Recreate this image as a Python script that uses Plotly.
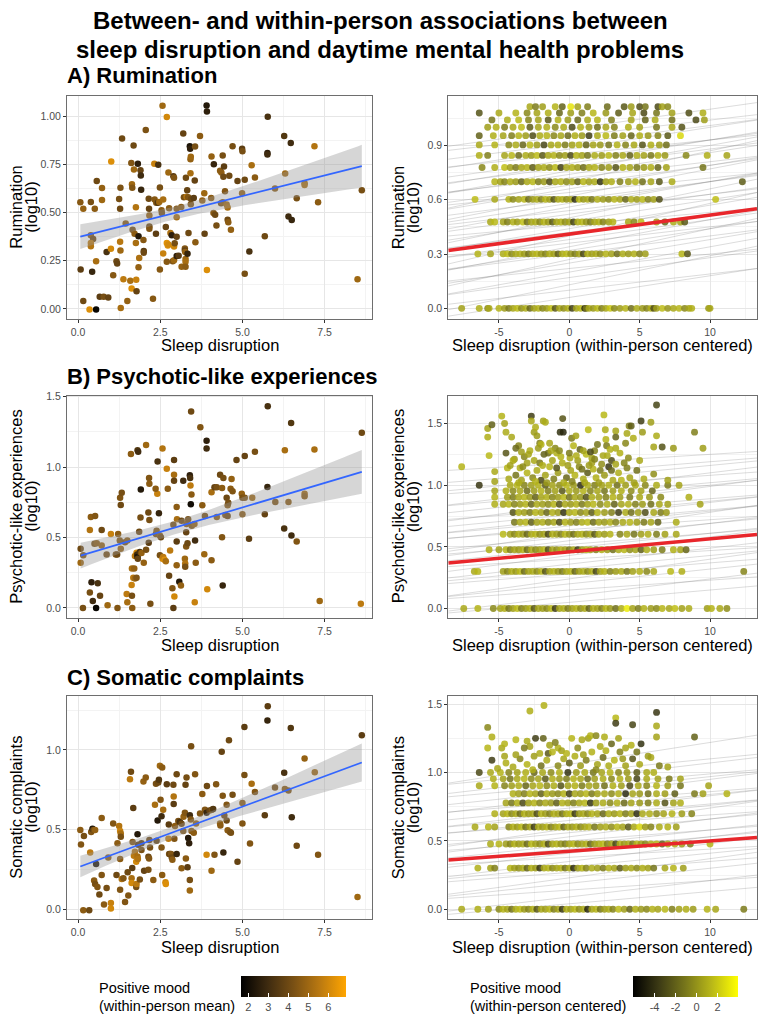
import numpy as np
import plotly.graph_objects as go

W, H = 760, 1018

# ---------------- titles / labels ----------------
MAIN_TITLE = ["Between- and within-person associations between",
              "sleep disruption and daytime mental health problems"]
PANEL_TITLES = ["A) Rumination", "B) Psychotic-like experiences", "C) Somatic complaints"]
Y_TITLES = [["Rumination", "(log10)"], ["Psychotic-like experiences", "(log10)"],
            ["Somatic complaints", "(log10)"]]
X_TITLE_LEFT = "Sleep disruption"
X_TITLE_RIGHT = "Sleep disruption (within-person centered)"
LEG_LEFT = ["Positive mood", "(within-person mean)"]
LEG_RIGHT = ["Positive mood", "(within-person centered)"]

# ---------------- tick labels ----------------
LX_TICKS = [0, 2.5, 5, 7.5]; LX_TEXT = ["0.0", "2.5", "5.0", "7.5"]; LX_MINOR = [1.25, 3.75, 6.25, 8.75]
RX_TICKS = [-5, 0, 5, 10]; RX_TEXT = ["-5", "0", "5", "10"]; RX_MINOR = [-7.5, -2.5, 2.5, 7.5, 12.5]
LY_A_TICKS = [0, 0.25, 0.5, 0.75, 1.0]; LY_A_TEXT = ["0.00", "0.25", "0.50", "0.75", "1.00"]; LY_A_MINOR = [0.125, 0.375, 0.625, 0.875]
LY_B_TICKS = [0, 0.5, 1.0, 1.5]; LY_B_TEXT = ["0.0", "0.5", "1.0", "1.5"]; LY_B_MINOR = [0.25, 0.75, 1.25]
LY_C_TICKS = [0, 0.5, 1.0]; LY_C_TEXT = ["0.0", "0.5", "1.0"]; LY_C_MINOR = [0.25, 0.75, 1.25]
RY_A_TICKS = [0, 0.3, 0.6, 0.9]; RY_A_TEXT = ["0.0", "0.3", "0.6", "0.9"]; RY_A_MINOR = [0.15, 0.45, 0.75, 1.05]
RY_B_TICKS = [0, 0.5, 1.0, 1.5]; RY_B_TEXT = ["0.0", "0.5", "1.0", "1.5"]; RY_B_MINOR = [0.25, 0.75, 1.25]
RY_C_TICKS = [0, 0.5, 1.0, 1.5]; RY_C_TEXT = ["0.0", "0.5", "1.0", "1.5"]; RY_C_MINOR = [0.25, 0.75, 1.25]
CB_LEFT_TICKS = [2, 3, 4, 5, 6]; CB_LEFT_TEXT = ["2", "3", "4", "5", "6"]
CB_RIGHT_TICKS = [-4, -2, 0, 2]; CB_RIGHT_TEXT = ["-4", "-2", "0", "2"]

# ---------------- left panels: between-person data ----------------
LA_x = [0.07,0.16,0.39,0.51,0.57,0.73,0.73,0.08,0.16,0.35,
        0.55,0.43,0.55,0.39,0.46,0.39,0.39,0.66,0.78,0.92,
        0.87,1.01,1.0,1.07,1.17,1.19,1.25,1.28,1.29,1.34,
        1.28,1.29,1.30,1.38,1.45,1.50,1.59,1.63,1.62,1.64,
        1.65,1.66,1.69,1.70,1.72,1.76,1.77,1.78,1.76,1.82,
        1.84,1.84,1.86,1.90,1.91,1.92,1.99,2.0,2.0,2.06,
        2.15,2.16,2.17,2.17,2.17,2.28,2.32,2.33,2.37,2.38,
        2.43,2.44,2.47,2.49,2.49,2.54,2.55,2.57,2.59,2.59,
        2.67,2.70,2.70,2.70,2.73,2.75,2.75,2.77,2.81,2.85,
        2.88,2.90,2.92,2.92,2.94,2.92,3.0,3.0,3.0,3.0,
        3.06,3.14,3.15,3.2,3.22,3.25,3.25,3.26,3.27,3.27,
        3.27,3.28,3.30,3.32,3.35,3.36,3.33,3.40,3.41,3.42,
        3.43,3.42,3.43,3.44,3.52,3.56,3.57,3.55,3.71,3.78,
        3.84,3.85,3.91,3.92,3.92,4.05,4.06,4.13,4.12,4.17,
        4.21,4.40,4.36,4.32,4.35,4.42,4.40,4.44,4.47,4.52,
        4.55,4.55,4.57,4.60,4.65,4.70,4.85,4.99,5.0,4.99,
        5.07,5.07,5.21,5.28,5.38,5.68,5.77,5.76,5.76,5.99,
        6.27,6.30,6.40,6.47,6.50,6.65,6.89,6.89,7.19,7.30,
        8.50,8.63]
LA_y = [0.553,0.519,0.555,0.519,0.663,0.627,0.565,0.205,0.041,-0.003,
        -0.003,0.193,0.248,0.382,0.363,0.342,0.325,0.063,0.063,0.060,
        0.295,0.765,0.312,0.175,0.248,0.236,0.57,0.519,0.628,0.884,
        0.348,0.303,0.005,0.154,0.443,0.041,0.146,0.106,0.757,0.646,
        0.628,0.411,0.848,0.723,0.39,0.342,0.151,0.092,0.527,0.753,
        0.377,0.216,0.264,0.719,0.692,0.618,0.358,0.301,0.291,0.928,
        0.572,0.519,0.485,0.428,0.416,0.053,0.753,0.568,0.39,0.551,
        0.55,0.748,0.555,0.205,0.63,0.512,0.498,1.053,0.568,0.288,
        0.425,0.995,0.245,0.342,0.329,0.334,0.707,0.522,0.394,0.382,
        0.248,0.688,0.68,0.324,0.341,0.253,0.519,0.476,0.375,0.274,
        0.276,0.529,0.219,0.909,0.579,0.313,0.303,0.295,0.259,0.245,
        0.219,0.680,0.582,0.615,0.579,0.394,0.286,0.844,0.830,0.776,
        0.789,0.704,0.543,0.570,0.575,0.842,0.346,0.666,0.897,0.562,
        0.6,0.39,1.055,1.024,0.202,0.575,0.791,0.75,0.497,0.488,
        0.433,0.795,0.707,0.716,0.548,0.685,0.553,0.738,0.610,0.541,
        0.526,0.462,0.450,0.690,0.411,0.844,0.664,0.830,0.818,0.6,
        0.670,0.183,0.298,0.745,0.682,0.377,0.997,0.808,0.801,0.625,
        0.897,0.702,0.479,0.861,0.461,0.574,0.652,0.642,0.844,0.553,
        0.154,0.616]
LA_c = [4.5,4.8,4.2,4.6,4.0,4.8,5.0,3.6,4.0,6.2,
        1.8,2.8,5.2,4.6,4.0,5.6,5.4,3.6,4.2,3.8,
        3.2,6.2,6.0,4.5,4.0,3.8,4.2,4.0,4.3,4.0,
        5.5,5.0,5.2,5.6,4.5,4.8,5.2,6.2,4.4,5.0,
        4.4,4.2,4.0,5.0,4.6,5.2,5.8,3.8,5.4,2.6,
        2.4,4.8,5.3,3.8,3.0,2.8,4.5,3.6,4.0,4.3,
        4.0,3.8,4.8,4.0,4.4,4.5,5.8,4.5,3.6,4.4,
        3.4,3.2,5.0,4.5,4.2,4.6,4.2,5.0,5.2,5.8,
        3.8,6.0,4.5,6.3,6.2,6.0,5.0,4.6,5.3,2.6,
        4.4,3.6,4.4,6.0,4.2,5.0,4.5,5.2,3.8,2.6,
        3.5,4.6,4.8,3.8,4.2,4.4,3.8,4.8,5.0,5.2,
        4.6,4.0,5.4,3.8,4.4,4.0,2.8,2.2,2.6,4.8,
        5.0,5.2,4.4,4.0,3.6,4.2,4.6,3.8,4.6,4.8,
        5.0,3.8,2.4,2.6,6.2,4.6,4.8,2.8,4.5,4.0,
        4.2,4.2,4.8,4.6,4.2,4.0,4.5,3.6,4.4,5.0,
        5.2,4.0,4.6,4.0,4.8,4.2,3.8,3.6,4.2,4.8,
        4.0,4.2,3.2,5.2,4.6,4.0,3.2,2.6,3.0,4.6,
        3.4,5.0,3.0,3.0,2.8,4.2,4.8,5.2,5.4,4.6,
        5.0,4.2]

LB_x = [0.08,0.08,0.16,0.36,0.39,0.52,0.50,0.57,0.72,0.72,
        0.41,0.60,0.36,0.67,0.87,1.0,1.15,1.19,1.22,1.27,
        1.30,1.28,1.33,1.30,1.43,1.50,1.61,1.64,1.71,1.68,
        1.73,1.78,1.63,1.48,1.64,1.73,1.78,1.80,1.81,1.82,
        1.88,1.93,1.81,1.83,1.86,1.90,1.91,2.07,2.0,2.07,
        2.14,2.16,2.17,2.17,2.15,2.41,2.36,2.37,2.39,2.42,
        2.46,2.49,2.52,2.49,2.57,2.57,2.59,2.63,2.70,2.67,
        2.73,2.77,2.80,2.87,2.90,2.92,2.92,2.92,2.93,3.0,
        3.01,3.0,3.0,3.08,3.13,3.15,3.2,3.25,3.26,3.26,
        3.29,3.29,3.30,3.33,3.35,3.40,3.41,3.43,3.42,3.44,
        3.45,3.46,3.54,3.56,3.58,3.72,3.78,3.84,3.86,3.91,
        3.91,3.93,4.06,4.06,4.15,4.22,4.22,4.32,4.38,4.38,
        4.40,4.42,4.48,4.52,4.55,4.55,4.57,4.64,4.67,4.70,
        4.82,4.98,5.0,5.0,5.07,5.07,5.20,5.30,5.38,5.68,
        5.77,5.76,6.0,6.27,6.29,6.40,6.48,6.49,6.65,6.89,
        6.89,7.19,8.63,0.15,0.45,0.55,0.9,1.2,1.5,1.65,
        2.2,2.9,3.55,7.35,8.6]
LB_y = [0.421,0.322,0.374,0.554,0.647,0.654,0.456,0.46,0.554,0.444,
        0.182,0.175,0.11,0.086,0.379,0.526,0.379,0.379,0.526,0.479,
        0.421,0.783,0.818,0.731,0.467,0.479,1.093,0.280,0.280,0.215,
        0.210,0.215,0.164,0.1,0.086,0.369,0.393,0.379,0.362,0.350,
        0.397,0.39,1.121,1.110,0.542,0.643,0.841,1.157,0.322,0.414,
        0.678,0.923,0.883,0.624,0.463,0.811,0.846,0.526,0.549,1.040,
        0.673,0.514,0.502,0.374,1.133,0.350,0.362,0.343,0.988,0.332,
        0.846,0.229,0.409,0.140,0.591,1.051,0.946,0.904,0.082,0.717,
        0.631,0.472,0.304,0.187,0.159,0.619,0.904,0.350,0.315,0.292,
        0.537,0.437,0.596,0.460,0.631,0.942,0.923,0.736,0.869,1.395,
        0.806,0.584,0.596,0.479,0.322,1.283,0.729,0.381,0.654,1.187,
        1.133,0.133,0.339,0.822,0.857,0.857,0.647,0.946,0.502,0.853,
        0.159,0.923,0.661,0.783,0.729,0.654,0.748,0.846,0.916,0.829,
        1.051,0.811,0.783,0.666,1.079,0.783,0.491,0.783,1.110,0.666,
        1.432,0.86,0.752,0.565,1.121,0.752,1.313,0.514,0.472,0.811,
        0.794,1.126,1.245,0.0,0.05,0.0,0.02,0.0,0.04,0.0,
        0.03,0.0,0.04,0.05,0.03]
LB_c = [4.0,5.0,4.4,5.4,4.6,4.4,4.2,4.6,4.0,4.8,
        2.6,3.2,4.2,3.8,4.2,5.8,4.4,4.0,4.6,4.4,
        4.8,4.4,4.2,4.0,4.2,4.6,4.6,5.2,4.8,5.6,
        5.0,4.4,5.8,5.6,4.2,5.6,6.0,3.0,2.2,3.8,
        3.2,4.8,3.4,3.0,4.0,4.2,2.4,5.0,4.8,4.2,
        4.0,4.4,4.6,4.2,3.6,5.8,4.6,4.2,4.4,3.2,
        2.8,4.6,4.0,4.2,5.4,6.0,5.6,6.2,5.8,5.2,
        4.6,3.8,5.6,4.4,4.2,3.6,5.2,3.8,6.0,4.6,
        5.2,3.6,4.8,2.4,4.8,4.0,3.0,5.0,5.4,4.2,
        3.8,4.4,4.6,4.0,4.2,2.6,3.2,2.0,5.6,4.0,
        4.6,4.4,4.8,3.0,4.6,4.4,4.6,5.0,4.2,2.6,
        3.0,6.0,4.6,5.2,3.8,4.2,4.6,4.0,4.4,4.6,
        2.8,4.2,4.4,4.0,4.6,4.0,4.2,4.6,4.8,4.4,
        3.8,4.8,4.2,4.6,3.8,4.4,3.6,5.0,4.2,3.8,
        3.2,2.8,4.4,3.2,5.2,4.6,3.4,3.0,4.4,5.0,
        4.6,5.2,4.0,4.2,3.0,1.8,5.0,4.4,5.2,4.6,
        4.2,3.6,5.8,5.0,5.6]

LC_x = [0.07,0.09,0.18,0.16,0.34,0.37,0.40,0.44,0.47,0.52,
        0.55,0.49,0.52,0.59,0.65,0.72,0.72,0.79,0.87,0.92,
        1.0,1.0,1.07,1.17,1.20,1.25,1.28,1.30,1.30,1.28,
        1.28,1.33,1.38,1.43,1.51,1.53,1.58,1.61,1.65,1.63,
        1.63,1.66,1.68,1.70,1.73,1.77,1.77,1.78,1.81,1.81,
        1.82,1.83,1.88,1.93,1.93,1.99,2.06,2.01,2.14,2.14,
        2.16,2.17,2.19,2.29,2.34,2.37,2.39,2.42,2.44,2.46,
        2.49,2.51,2.54,2.56,2.54,2.56,2.59,2.66,2.67,2.70,
        2.75,2.77,2.76,2.80,2.83,2.85,2.87,2.9,2.91,2.91,
        2.93,2.95,3.0,3.0,3.05,3.10,3.15,3.15,3.20,3.21,
        3.25,3.27,3.28,3.30,3.33,3.35,3.38,3.40,3.40,3.40,
        3.44,3.43,3.45,3.52,3.56,3.59,3.71,3.78,3.86,3.91,
        3.91,3.92,4.0,4.06,4.07,4.11,4.15,4.2,4.32,4.33,
        4.37,4.40,4.42,4.45,4.52,4.52,4.55,4.59,4.62,4.65,
        4.70,4.85,5.0,5.0,5.06,5.06,5.23,5.28,5.38,5.68,
        5.77,5.76,5.99,6.27,6.29,6.40,6.47,6.50,6.65,6.89,
        7.20,7.30,8.50,8.63]
LC_y = [0.497,0.406,0.46,-0.006,-0.006,0.356,0.484,0.505,0.497,0.497,
        0.284,0.180,0.159,0.139,0.093,0.573,0.215,0.029,0.133,0.325,
        0.039,0.004,0.538,0.215,0.414,0.522,0.491,0.476,0.455,0.315,
        0.122,0.190,0.195,0.046,0.232,0.087,0.816,0.863,0.259,0.195,
        0.164,0.422,0.636,0.335,0.360,0.139,0.298,0.159,0.470,0.331,
        0.315,0.404,0.186,0.371,0.414,0.801,0.826,0.242,0.248,0.329,
        0.319,0.435,0.387,0.184,0.656,0.787,0.429,0.557,0.795,0.812,
        0.901,0.687,0.584,0.89,0.387,0.215,0.625,0.170,0.159,0.785,
        0.443,0.346,0.532,0.346,0.346,0.325,0.311,0.781,0.660,0.708,
        0.443,0.522,0.847,0.346,0.553,0.547,0.536,0.257,0.491,0.580,
        0.605,0.781,0.319,0.826,0.263,0.447,0.414,0.184,0.118,0.590,
        1.023,0.563,0.491,0.480,0.847,0.538,0.600,0.723,0.625,0.605,
        0.342,0.774,0.619,0.242,0.625,0.629,0.342,0.785,0.538,0.526,
        0.988,0.712,0.356,0.588,0.656,0.557,0.495,1.060,0.484,0.480,
        0.718,0.298,0.667,0.538,1.143,0.843,0.412,0.787,0.735,0.590,
        1.273,1.184,0.764,0.857,0.754,0.745,1.137,0.578,0.398,0.946,
        0.859,0.342,0.077,1.091]
LC_c = [4.6,4.4,4.2,4.6,4.0,5.6,4.4,2.4,4.2,4.8,
        2.2,4.6,4.2,4.4,4.0,4.6,4.4,4.6,4.2,4.6,
        5.8,6.0,4.4,4.0,4.6,5.4,5.8,5.2,4.2,4.6,
        4.4,5.4,4.4,4.4,4.0,4.4,5.6,4.0,3.6,5.2,
        6.0,4.4,3.6,5.6,5.4,4.2,6.0,5.6,2.4,5.2,
        5.4,3.6,4.2,4.2,3.6,4.8,4.6,3.8,4.2,4.0,
        4.4,4.0,4.2,4.6,5.2,4.2,3.8,2.4,4.0,3.4,
        5.0,4.4,3.0,4.6,4.4,4.6,5.2,6.0,6.2,3.6,
        5.6,4.2,3.6,3.8,4.4,4.0,4.6,4.0,3.6,5.4,
        4.4,4.6,4.0,2.8,4.2,3.2,4.0,4.6,4.4,4.8,
        4.4,3.8,4.6,4.2,3.6,2.4,2.6,4.2,5.0,3.0,
        4.2,4.4,4.6,4.6,4.4,4.8,4.4,4.6,4.4,2.8,
        6.0,4.0,3.8,5.0,4.2,3.4,4.4,4.4,4.8,4.6,
        3.8,4.4,2.8,4.0,4.4,4.0,4.6,4.0,4.4,4.2,
        4.2,3.8,4.6,4.4,3.6,4.2,4.4,5.2,4.4,3.6,
        3.6,2.8,4.2,3.2,4.6,4.4,3.4,3.0,4.0,4.8,
        5.0,4.4,5.0,3.6]

# between-person linear fit (intercept, slope) as drawn in the reference
BETWEEN_FIT = [(0.372, 0.0427), (0.366, 0.0696), (0.263, 0.0762)]

# ---------------- right panels: within-person data ----------------
RA_levels = [0.0, 0.301, 0.477, 0.602, 0.699, 0.778, 0.845, 0.903, 0.954, 1.0, 1.041, 1.079, 1.114]
RA_x = [
    [-7.65,-6.4,-5.8,-5.7,-5.0,-4.6,-4.3,-4.0,-3.7,-3.4,-3.1,-2.8,-2.5,-2.2,-1.9,-1.6,-1.3,-1.0,-0.7,-0.4,-0.1,0.2,0.5,0.8,1.1,1.2,1.4,1.7,2.0,2.3,2.6,2.9,3.2,3.6,4.0,4.4,4.8,5.2,5.5,5.8,6.0,6.2,6.6,7.0,7.4,7.8,8.2,8.5,8.7,9.9,10.0],
    [-6.5,-5.6,-4.7,-4.4,-4.1,-3.8,-3.5,-3.2,-2.9,-2.6,-2.3,-2.0,-1.7,-1.4,-1.1,-0.8,-0.5,-0.2,0.1,0.4,0.7,1.0,1.3,1.6,1.9,2.2,2.6,3.0,3.4,3.8,4.2,4.6,5.0,5.4,8.0,8.4],
    [-5.6,-5.3,-4.7,-4.4,-4.0,-3.7,-3.3,-3.0,-2.7,-2.4,-2.1,-1.8,-1.5,-1.2,-0.9,-0.6,-0.3,0.0,0.3,0.6,0.9,1.2,1.5,1.8,2.1,2.4,2.8,3.1,4.2,4.6,5.1,6.2,6.8,7.4,7.9,8.2],
    [-6.7,-5.3,-4.3,-4.0,-3.6,-3.2,-2.9,-2.6,-2.3,-2.0,-1.7,-1.4,-1.1,-0.8,-0.5,-0.2,0.1,0.4,0.7,1.0,1.3,1.6,2.0,2.4,2.8,3.2,3.6,4.0,4.4,4.8,5.2,5.6,6.0,6.4,10.4],
    [-5.3,-4.9,-4.6,-4.2,-3.8,-3.4,-3.0,-2.6,-2.2,-1.8,-1.4,-1.0,-0.6,-0.2,0.2,0.6,1.0,1.4,1.8,2.2,2.6,3.0,3.6,4.2,4.7,5.2,5.8,6.4,7.3,12.3],
    [-6.2,-5.3,-4.6,-4.2,-3.8,-3.4,-3.0,-2.6,-2.2,-1.8,-1.4,-1.0,-0.6,-0.2,0.2,0.6,1.0,1.4,1.8,2.3,2.8,3.3,3.8,4.3,4.8,5.3,5.8,6.3,6.9,9.5],
    [-6.4,-5.8,-4.6,-4.1,-3.6,-3.1,-2.7,-2.3,-1.9,-1.5,-1.1,-0.7,-0.3,0.1,0.5,0.9,1.3,1.8,2.3,2.8,3.3,3.8,4.3,4.8,5.3,5.8,6.3,6.8,8.3,9.8,11.2],
    [-6.4,-5.3,-4.3,-3.8,-3.3,-2.8,-2.3,-1.8,-1.3,-0.8,-0.3,0.2,0.7,1.2,1.7,2.2,2.8,3.4,4.0,4.6,5.2,5.8,6.4,6.9],
    [-6.4,-5.4,-4.7,-4.1,-3.6,-3.1,-2.6,-2.1,-1.6,-1.1,-0.6,-0.1,0.4,0.9,1.4,2.0,2.6,3.2,3.8,4.4,5.0,5.6,6.3,7.0,7.9],
    [-5.8,-5.2,-4.6,-4.0,-3.4,-2.8,-2.2,-1.6,-1.0,-0.4,0.2,0.8,1.4,2.0,2.6,3.2,4.2,5.0,6.2,7.3,8.0],
    [-5.5,-4.4,-3.6,-2.9,-2.2,-1.5,-0.8,-0.1,0.6,1.3,2.0,3.0,4.4,5.4,6.1,7.3,9.0,9.6],
    [-6.4,-5.0,-3.8,-3.0,-2.3,-1.5,-0.7,0.1,0.9,1.7,2.6,3.5,4.5,5.3,6.2,7.3,8.5,9.5],
    [-2.8,-2.4,-1.9,-1.0,-0.5,0.1,0.6,1.3,2.7,3.9,4.4,5.0,5.4,6.3,6.6,7.0],
]
RA_c = [
    [0.5,1.0,-0.5,0.8,1.2,0.3,-1.0,0.6,1.5,-0.2,0.9,-1.8,0.4,1.1,-0.6,0.2,1.6,-2.5,0.7,-0.3,1.0,-3.5,0.5,1.3,-4.5,-1.2,0.8,0.1,1.4,-0.8,0.6,1.9,-0.4,0.3,1.2,-1.5,0.9,0.2,-0.7,1.1,-2.8,0.4,1.5,0.0,0.8,1.3,-0.5,0.6,1.0,0.2,0.7],
    [1.2,0.6,0.9,1.5,-0.4,0.7,1.0,0.3,-1.2,0.8,1.3,0.2,-0.6,1.0,0.5,-2.0,0.9,1.4,0.1,-0.9,0.6,-3.0,1.1,0.4,0.8,-0.3,1.2,0.5,-1.5,0.9,0.2,1.0,-0.7,0.4,1.3,-2.5],
    [0.8,1.4,0.5,-0.8,1.0,0.3,1.6,-1.4,0.6,0.9,-0.5,1.2,0.2,-2.2,0.7,1.1,-0.2,0.5,-3.2,0.9,1.3,0.0,-1.0,0.6,1.0,-0.6,0.4,1.2,0.8,-0.4,1.5,0.3,-1.8,0.9,0.6,-2.4],
    [1.5,0.8,1.1,-0.4,0.6,1.3,-1.6,0.2,0.9,-0.8,1.2,0.4,-2.6,0.7,1.0,-0.3,0.5,-4.2,1.4,0.1,0.8,-1.1,1.0,0.3,-0.5,1.2,0.6,-1.9,0.9,0.2,1.4,-0.7,0.5,-2.8,1.6],
    [1.2,0.5,-0.6,1.0,0.3,-1.8,0.8,1.4,-0.9,0.2,-3.0,0.7,1.1,-0.4,0.6,-2.0,1.3,0.4,0.9,-4.0,0.5,1.0,-0.8,0.3,1.2,-1.4,0.7,-2.4,0.9,-2.2],
    [-0.5,1.0,1.6,0.4,-1.0,0.8,1.2,-2.2,0.5,0.9,-0.3,1.4,-3.4,0.6,1.0,0.2,-1.5,0.8,1.1,-0.6,0.4,-2.6,1.2,0.7,-0.9,0.3,1.0,-1.8,0.6,-1.2],
    [1.0,-0.8,0.6,1.3,-1.6,0.9,0.2,1.5,-2.4,0.7,1.1,-0.5,0.4,-3.0,1.2,0.6,-1.2,0.9,0.3,1.4,-0.7,0.8,-2.0,1.0,0.5,-1.0,1.2,0.2,-0.4,1.0,0.6],
    [0.8,1.2,-0.4,0.9,-1.8,1.4,0.3,-3.2,0.7,1.0,-0.9,0.5,1.3,-2.0,0.6,0.2,-1.2,1.1,-0.6,0.8,-2.6,1.0,0.4,-1.4],
    [-2.0,1.0,0.6,-0.8,1.3,0.4,-2.8,0.9,1.2,-0.5,0.7,-1.6,1.0,0.3,-3.5,0.8,1.4,-0.9,0.5,-1.8,1.1,0.2,-0.6,-2.4,2.5],
    [0.4,1.1,-1.0,0.8,1.5,-2.2,0.6,1.0,-0.4,0.9,-3.0,1.2,0.3,-1.4,0.7,-0.6,1.0,0.5,-1.2,0.8,-2.6],
    [-1.2,0.9,1.4,-0.6,0.5,-2.4,1.1,0.3,-1.6,0.8,1.2,-0.8,0.6,-2.0,0.9,-1.4,-3.0,0.4],
    [-2.6,0.8,1.2,-0.5,0.6,1.0,-1.8,0.4,-0.8,1.3,0.2,-2.2,0.7,-3.0,-1.2,0.5,-2.8,1.0],
    [0.8,-1.0,0.4,1.2,-2.0,3.0,0.6,-0.8,-1.6,-2.4,0.3,-2.8,-1.2,-3.0,0.5,-0.4],
]

RB_levels = [0.0, 0.301, 0.477, 0.602, 0.699, 0.778, 0.845, 0.903, 0.954, 1.0]
RB_x = [
    [-7.5,-6.5,-5.4,-4.9,-4.6,-4.3,-4.0,-3.7,-3.4,-3.1,-2.8,-2.5,-2.2,-1.9,-1.6,-1.3,-1.0,-0.7,-0.4,-0.1,0.2,0.5,0.8,1.1,1.4,1.7,2.0,2.3,2.6,2.9,3.3,3.7,4.1,4.5,4.9,5.3,5.8,6.2,6.6,7.1,7.5,8.0,8.5,9.8,10.1,10.7,11.2],
    [-6.75,-6.5,-4.7,-4.4,-4.1,-3.8,-3.5,-3.2,-2.9,-2.6,-2.3,-2.0,-1.7,-1.4,-1.1,-0.8,-0.5,-0.2,0.1,0.4,0.7,1.0,1.3,1.6,1.9,2.2,2.5,2.9,3.3,3.7,4.1,4.5,5.0,5.5,6.0,7.2,8.0,12.4],
    [-5.7,-5.0,-4.5,-4.2,-3.9,-3.6,-3.3,-3.0,-2.7,-2.4,-2.1,-1.8,-1.5,-1.2,-0.9,-0.6,-0.3,0.0,0.3,0.6,0.9,1.2,1.5,1.9,2.3,2.7,3.1,3.5,3.9,4.3,4.7,5.1,5.5,6.0,6.6,7.4,7.9,8.3],
    [-4.7,-4.2,-3.9,-3.6,-3.3,-3.0,-2.7,-2.4,-2.1,-1.8,-1.5,-1.2,-0.9,-0.6,-0.3,0.0,0.3,0.6,0.9,1.2,1.5,1.8,2.1,2.5,2.9,3.6,4.1,4.6,5.1,5.6,6.2,6.8,7.6],
    [-3.9,-3.5,-3.1,-2.7,-2.3,-1.9,-1.5,-1.1,-0.7,-0.3,0.1,0.5,0.9,1.3,1.7,2.1,2.5,2.9,3.3,3.8,4.3,4.8,5.3,5.8,6.3,7.6],
    [-4.0,-3.6,-3.2,-2.8,-2.4,-2.0,-1.6,-1.2,-0.8,-0.4,0.0,0.4,0.8,1.2,1.6,2.0,2.5,3.0,3.5,4.0,4.4,4.9,5.4,6.0,6.5,6.9],
    [-5.3,-4.7,-4.3,-3.9,-3.5,-3.1,-2.7,-2.3,-1.9,-1.5,-1.1,-0.7,-0.3,0.1,0.5,0.9,1.3,1.7,2.2,2.7,3.2,3.7,4.2,4.7,5.2,5.8,6.4,7.0,9.3],
    [-5.3,-4.4,-4.0,-3.6,-3.2,-2.8,-2.4,-2.0,-1.6,-1.2,-0.8,-0.4,0.0,0.4,0.8,1.2,1.6,2.1,2.6,3.1,3.6,4.3,5.0,5.7,6.5,8.5],
    [-5.3,-4.5,-4.0,-3.5,-3.0,-2.5,-2.0,-1.5,-1.0,-0.5,0.0,0.5,1.0,1.5,2.0,2.5,3.1,3.7,4.4,5.1,5.9],
    [-6.4,-4.2,-3.7,-3.2,-2.7,-2.2,-1.7,-1.2,-0.7,-0.2,0.3,0.8,1.3,1.8,2.3,2.8,3.4,4.0,4.7,5.4,6.2,7.0,7.8],
]
RB_c = [
    [0.8,1.2,-0.4,0.6,1.0,-1.2,0.4,1.5,-0.8,0.2,1.1,-2.4,0.7,0.3,-0.5,1.3,-3.6,0.6,0.9,-1.0,0.4,1.2,-0.3,0.8,-2.0,1.0,0.5,-0.7,1.4,0.2,-1.5,0.9,3.2,0.6,-0.9,1.1,0.3,-0.4,1.3,0.7,1.6,0.5,0.9,0.4,1.2,0.8,-0.2],
    [0.8,1.3,0.4,-0.6,1.0,0.2,1.4,-1.5,0.6,0.9,-0.3,1.2,-2.6,0.5,1.1,0.0,-0.9,0.7,1.3,-1.8,0.4,0.9,-0.4,1.0,-3.2,0.6,1.2,-0.7,0.3,0.9,-1.2,0.5,1.1,-0.5,0.8,1.4,1.0,-0.6],
    [1.0,0.5,1.3,-0.8,0.6,0.2,1.1,-1.6,0.8,-0.4,0.4,1.2,-2.8,0.7,-0.2,1.0,0.5,-1.1,0.9,-3.6,0.3,1.2,0.6,-0.6,1.0,0.2,-1.4,0.8,1.3,-0.3,0.5,-2.2,0.9,0.4,-0.9,1.1,0.6,-1.8],
    [1.4,0.6,-0.5,1.0,0.3,-1.8,0.8,1.2,-0.2,0.5,-3.0,1.0,0.4,-0.8,1.3,0.1,-1.4,0.7,1.1,-0.4,0.6,-2.4,0.9,0.3,1.2,-0.6,0.8,-1.2,0.4,1.0,-0.9,0.5,0.7],
    [-1.2,0.8,1.2,-2.2,0.5,1.0,-0.4,0.7,-3.0,1.1,0.3,-0.8,0.9,1.4,-1.6,0.6,0.2,1.0,-0.6,0.8,1.3,0.4,-1.0,0.7,-2.0,0.9],
    [-2.6,0.9,0.4,-0.9,1.2,0.6,-1.8,1.0,0.2,-4.0,0.8,1.3,-0.5,0.5,-2.2,1.1,0.3,-0.7,-3.5,0.9,-1.5,0.4,-2.8,0.7,-1.0,0.2],
    [1.0,0.6,1.3,-0.6,0.3,1.1,-1.8,0.8,0.4,-0.3,1.2,-2.6,0.7,0.2,1.0,-1.0,0.5,1.3,-0.4,0.9,-2.0,0.6,1.1,-0.8,0.3,-1.4,0.8,0.5,0.6],
    [1.2,0.4,-0.9,0.8,1.3,0.2,-2.0,0.6,1.0,-0.5,0.3,1.4,-1.3,0.7,0.1,-2.8,0.9,0.5,-0.7,1.2,0.4,-1.0,0.8,0.2,-0.4,1.0],
    [0.6,1.0,-0.4,0.8,-1.6,0.3,1.2,-0.8,0.5,-2.4,0.9,0.2,1.1,-0.6,0.7,-1.2,0.4,1.0,-0.3,0.6,-1.8],
    [-3.8,0.8,1.2,-0.6,0.4,1.0,-2.2,0.6,-0.3,1.3,0.2,-4.2,0.9,-0.8,0.5,1.1,-1.4,0.3,0.7,-0.5,0.9,-1.0,0.6],
]
RB_cloud = [
    (-7.65,1.15,1.2),(-5.8,1.46,0.6),(-5.5,1.49,-2.0),(-5.8,1.39,1.0),(-5.7,1.24,1.4),(-5.3,1.11,0.8),
    (-5.3,1.03,0.5),(-4.8,1.56,1.2),(-4.6,1.5,0.6),(-4.5,1.43,0.9),(-4.5,1.26,-2.5),(-4.4,1.14,1.3),
    (-4.1,1.39,0.8),(-3.9,1.21,0.3),(-3.6,1.32,-0.5),(-3.5,1.14,1.0),(-3.0,1.18,0.6),(-2.7,1.56,-3.5),
    (-2.7,1.52,0.8),(-2.5,1.43,0.4),(-2.4,1.47,1.0),(-2.3,1.40,0.3),(-2.1,1.34,-0.8),(-2.0,1.33,1.2),
    (-1.85,1.52,0.5),(-1.7,1.51,0.9),(-1.5,1.26,-1.5),(-1.4,1.34,0.7),(-0.9,1.26,1.0),(-0.65,1.43,-4.0),
    (-0.47,1.54,-2.5),(-0.43,1.43,-4.5),(0.05,1.22,0.8),(0.17,1.38,-1.0),(0.47,1.40,0.6),(0.76,1.29,-2.0),
    (1.35,1.45,1.5),(1.6,1.22,0.5),(1.8,1.28,-0.6),(2.46,1.57,1.4),(2.56,1.45,0.9),(2.6,1.37,1.2),
    (2.65,1.32,-1.0),(3.3,1.44,0.7),(3.3,1.39,-2.0),(4.1,1.42,0.8),(4.25,1.48,-0.6),(4.4,1.48,-2.2),
    (4.55,1.38,1.0),(5.1,1.52,-3.5),(5.2,1.43,0.3),(5.8,1.51,0.4),(6.0,1.31,0.6),(6.2,1.65,-3.2),
    (6.2,1.40,0.9),(6.6,1.31,-2.6),(7.4,1.30,0.2),(8.9,1.43,-0.8),(9.5,1.30,0.4),
    (-4.3,1.05,0.8),(-3.8,1.08,-1.2),(-3.4,1.04,0.5),(-3.0,1.10,1.2),(-2.6,1.06,-0.4),(-2.3,1.12,0.9),
    (-2.0,1.04,-3.0),(-1.7,1.08,0.6),(-1.4,1.15,1.3),(-1.1,1.05,-0.8),(-0.8,1.10,0.4),(-0.5,1.18,1.0),
    (-0.2,1.06,-1.8),(0.1,1.12,0.7),(0.4,1.08,1.2),(0.7,1.15,-0.5),(1.0,1.05,0.9),(1.3,1.10,-2.4),
    (1.6,1.18,0.5),(1.9,1.06,1.1),(2.2,1.12,-0.9),(2.5,1.08,0.3),(2.8,1.15,-3.8),(3.1,1.04,0.8),
    (3.5,1.10,1.0),(3.9,1.18,-0.6),(4.3,1.06,0.6),(4.8,1.12,-1.4),(5.3,1.05,0.9),(6.0,1.09,-0.2),
    (7.0,1.04,0.5),(-4.0,1.20,1.0),(-3.2,1.23,-0.6),(-2.5,1.20,0.8),(-1.8,1.25,-2.0),(-1.2,1.20,0.6),
    (-0.6,1.23,1.2),(0.0,1.26,-1.0),(0.6,1.20,0.4),(1.2,1.25,1.4),(1.8,1.21,-0.6),(2.4,1.24,0.7),
    (3.0,1.20,-2.8),(3.6,1.26,1.1),(4.2,1.22,-0.3),(5.0,1.20,0.8),(-3.8,1.30,-1.6),(-2.8,1.28,1.0),
    (-2.2,1.30,0.3),(-1.0,1.30,-0.4),(0.3,1.32,1.3),(1.0,1.28,0.6),(2.0,1.33,-1.2),(3.3,1.30,0.9),
    (4.0,1.34,-0.5),(-4.2,1.16,0.5),(-3.6,1.02,0.9),(-3.3,1.15,-0.3),(-2.9,1.25,0.6),(-2.4,1.03,1.1),
    (-2.1,1.18,-1.0),(-1.6,1.02,0.2),(-1.3,1.28,0.8),(-0.9,1.14,-2.6),(-0.4,1.02,0.9),(-0.1,1.16,0.4),
    (0.2,1.03,-0.6),(0.5,1.24,1.0),(0.9,1.13,-1.4),(1.1,1.02,0.7),(1.5,1.27,-3.0),(1.7,1.13,1.2),
    (2.1,1.02,0.4),(2.3,1.17,-0.2),(2.7,1.24,0.9),(3.0,1.12,-1.8),(3.3,1.17,0.6),(3.7,1.04,1.3),
    (4.1,1.14,-0.8),(4.6,1.02,0.5),(-1.9,1.16,1.0),(-0.7,1.28,-0.4),(1.4,1.16,0.3),(2.9,1.29,1.1),
    (-3.4,1.27,0.4),
]

RC_levels = [0.0, 0.301, 0.477, 0.602, 0.699, 0.778, 0.845, 0.903, 0.954, 1.0]
RC_x = [
    [-7.65,-6.5,-5.75,-5.0,-4.7,-4.4,-4.1,-3.8,-3.5,-3.2,-2.9,-2.6,-2.3,-2.0,-1.7,-1.4,-1.1,-0.8,-0.5,-0.2,0.1,0.4,0.7,1.0,1.3,1.6,1.9,2.2,2.5,2.8,3.1,3.5,3.9,4.3,4.7,5.1,5.5,5.9,6.3,6.8,7.3,7.8,8.3,8.8,9.8,10.4,12.4],
    [-6.5,-5.6,-5.3,-4.2,-3.9,-3.6,-3.3,-3.0,-2.7,-2.4,-2.1,-1.8,-1.5,-1.2,-0.9,-0.6,-0.3,0.0,0.3,0.6,0.9,1.2,1.6,2.0,2.4,2.8,3.2,3.6,4.0,4.4,4.8,5.2,5.6,6.0,6.8,7.4,8.1],
    [-5.6,-5.0,-4.5,-4.2,-3.9,-3.6,-3.3,-3.0,-2.7,-2.4,-2.1,-1.8,-1.5,-1.2,-0.9,-0.6,-0.3,0.0,0.3,0.6,0.9,1.2,1.5,1.8,2.1,2.4,2.7,3.0,3.3,3.6,3.9,4.2,4.5,4.8,5.1,5.4,5.8,6.2,6.6,7.0,7.5,8.0,8.6,10.0],
    [-6.7,-5.75,-5.3,-4.3,-4.0,-3.7,-3.4,-3.1,-2.8,-2.5,-2.2,-1.9,-1.6,-1.3,-1.0,-0.7,-0.4,-0.1,0.2,0.5,0.8,1.1,1.4,1.8,2.2,2.6,3.0,3.4,3.8,4.2,4.6,5.0,5.4,5.8,6.4,7.0,7.6],
    [-5.3,-4.7,-4.4,-4.1,-3.8,-3.5,-3.2,-2.9,-2.6,-2.3,-2.0,-1.7,-1.4,-1.1,-0.8,-0.5,-0.2,0.1,0.4,0.7,1.0,1.3,1.6,2.0,2.4,2.8,3.2,3.6,4.0,4.4,4.8,5.2,5.7,6.2,6.7,7.3,8.0,8.7],
    [-4.5,-4.1,-3.7,-3.3,-2.9,-2.5,-2.1,-1.7,-1.3,-0.9,-0.5,-0.1,0.3,0.7,1.1,1.5,1.9,2.4,2.9,3.4,3.9,4.4,5.0,5.6,6.2,6.8,7.4,7.9],
    [-4.0,-3.6,-3.2,-2.8,-2.4,-2.0,-1.6,-1.2,-0.8,-0.4,0.0,0.4,0.8,1.2,1.6,2.0,2.5,3.0,3.5,4.0,4.5,5.0,5.6,6.2,6.8,7.5,8.9,9.5,11.2],
    [-6.4,-5.3,-4.6,-4.1,-3.6,-3.1,-2.6,-2.1,-1.6,-1.1,-0.6,-0.1,0.4,0.9,1.4,1.9,2.5,3.1,3.7,4.3,4.9,5.5,6.2,7.0,7.9,9.9],
    [-5.4,-4.7,-4.2,-3.7,-3.2,-2.7,-2.2,-1.7,-1.2,-0.7,-0.2,0.3,0.8,1.3,1.8,2.4,3.0,3.6,4.2,4.8,5.5,6.3,7.1,7.9],
    [-6.4,-5.6,-4.9,-4.3,-3.7,-3.1,-2.5,-1.9,-1.3,-0.7,-0.1,0.5,1.1,1.7,2.3,2.9,3.5,4.1,4.8,5.5,6.0],
]
RC_c = [
    [0.8,1.0,0.5,-0.4,1.2,0.6,-1.4,0.9,1.5,0.2,-0.6,1.1,-2.6,0.7,0.3,1.3,-0.9,0.5,-3.8,1.0,0.4,1.4,-0.3,0.8,-4.6,0.6,1.2,-1.2,0.3,0.9,-0.7,1.5,0.4,-2.0,1.0,0.2,-0.5,1.1,0.6,1.4,-0.8,0.5,1.0,0.3,1.2,0.7,-1.0],
    [1.0,0.6,-0.8,1.3,0.4,-0.2,0.9,-2.0,1.1,0.3,-3.8,0.7,1.2,-0.5,0.5,1.0,-1.4,0.8,-4.2,0.2,1.3,-0.6,0.9,0.4,-1.0,1.1,0.6,-2.4,0.3,0.8,-0.4,1.0,0.5,-1.2,0.7,1.2,0.4],
    [0.9,1.3,0.4,-0.6,1.1,0.2,0.8,-1.6,1.4,0.5,-0.3,1.0,-2.8,0.6,1.2,0.0,-0.9,0.7,1.3,-0.4,0.5,1.0,-1.8,0.3,0.9,1.4,-0.7,0.6,-3.2,1.1,0.2,0.8,-1.1,1.3,0.4,-0.5,0.9,1.2,-2.0,0.6,1.0,0.3,-0.8,1.2],
    [0.8,1.2,0.5,-0.6,1.0,0.3,1.4,-1.4,0.6,-3.4,0.9,0.2,1.1,-0.8,0.5,1.3,-2.0,0.7,0.1,1.0,-0.4,0.6,1.2,-1.2,0.4,0.9,-0.2,1.3,0.5,-2.4,0.8,2.5,0.3,-0.6,0.9,1.1,0.4],
    [1.0,0.5,1.3,-0.4,0.8,-1.6,1.1,0.2,0.7,-2.8,1.2,0.4,-0.7,1.0,0.6,-1.2,0.9,1.4,-3.6,0.3,0.8,-0.5,1.1,0.6,-1.8,0.9,0.2,1.3,-0.9,0.5,-4.2,0.8,1.0,-0.3,0.6,1.2,0.4,-0.6],
    [0.6,-1.2,1.0,-3.0,0.4,1.2,-0.6,0.8,0.2,-2.2,1.1,0.5,-0.9,0.7,1.3,-4.0,0.3,0.9,-0.4,1.0,-1.6,0.6,0.2,-0.8,0.9,-2.6,0.5,1.0],
    [1.0,0.4,-0.8,1.2,0.6,-2.0,0.9,0.2,-0.5,1.1,-3.4,0.7,0.3,1.3,-1.0,0.5,0.8,-0.3,1.0,-4.4,0.6,0.2,-1.4,0.9,0.4,-2.2,-1.0,0.5,1.2],
    [0.8,1.2,-0.6,0.4,1.0,-1.8,0.6,1.3,-0.3,0.9,-2.6,0.5,1.1,-0.9,0.7,0.2,-1.4,1.0,0.4,-3.0,0.8,-0.5,1.2,0.3,-1.2,0.6],
    [1.0,0.5,-1.2,0.8,1.3,-0.4,0.6,-2.4,1.0,0.3,-0.8,1.2,0.7,-1.6,0.4,0.9,-0.5,1.1,0.2,-3.2,0.8,0.5,-1.0,0.6],
    [-3.0,0.8,1.2,-0.6,0.5,1.0,-1.8,0.7,-0.3,1.1,-4.0,0.4,0.9,-1.2,0.6,1.3,-0.5,0.2,-2.4,0.8,1.0],
]
RC_cloud = [
    (-5.8,1.33,-0.5),(-5.5,1.26,1.0),(-5.8,1.18,1.3),(-5.5,1.09,-3.5),(-4.8,1.18,0.8),(-4.6,1.21,1.2),
    (-4.6,1.12,0.6),(-4.5,1.07,1.0),(-3.8,1.24,1.3),(-3.0,1.23,0.9),(-2.8,1.19,0.6),(-2.8,1.45,1.0),
    (-1.8,1.49,1.1),(-2.4,1.25,-3.5),(-1.85,1.25,-2.0),(-2.1,1.14,0.9),(-1.5,1.14,-2.4),(-0.8,1.18,1.1),
    (-0.55,1.16,0.5),(0.17,1.25,1.3),(0.9,1.24,0.8),(1.35,1.25,0.4),(1.5,1.27,1.2),(1.9,1.27,-0.5),
    (2.5,1.26,1.0),(3.3,1.40,1.4),(3.3,1.36,-3.5),(3.5,1.25,0.6),(4.5,1.35,-3.2),(4.4,1.20,1.1),
    (5.1,1.21,-4.0),(5.8,1.11,0.8),(6.2,1.44,-3.8),(6.2,1.34,0.8),(6.2,1.26,0.6),(8.9,1.26,-2.0),
    (-4.0,1.04,0.8),(-3.5,1.10,-0.6),(-3.0,1.06,1.2),(-2.5,1.12,0.4),(-2.0,1.05,-1.4),(-1.6,1.09,0.9),
    (-1.2,1.15,1.3),(-0.8,1.05,-0.4),(-0.4,1.10,0.7),(0.0,1.07,-2.2),(0.4,1.12,1.0),(0.8,1.05,0.3),
    (1.2,1.09,-0.8),(1.6,1.15,1.1),(2.0,1.06,0.6),(2.4,1.11,-1.6),(2.8,1.05,0.9),(3.2,1.09,1.3),
    (3.6,1.15,-0.6),(4.0,1.05,0.5),(4.5,1.10,-2.6),(5.0,1.06,0.8),(5.6,1.12,0.3),(6.4,1.05,-1.0),
    (7.0,1.04,0.6),(-3.2,1.18,-1.0),(-1.4,1.20,0.6),(0.6,1.18,-0.3),(2.2,1.19,0.9),(3.0,1.21,-1.8),
    (4.0,1.18,0.7),(-3.8,1.13,0.5),(-2.6,1.02,1.0),(-1.0,1.22,-0.8),(-0.2,1.14,1.2),(1.0,1.13,0.4),
    (1.9,1.02,-0.5),(2.6,1.16,1.1),(3.8,1.10,0.2),(4.8,1.15,-1.2),(-5.1,1.03,0.7),
]

# person-specific (random) regression lines: intercept at x=0 and slope
RA_int = [0.06,0.10,0.13,0.17,0.20,0.22,0.25,0.27,0.30,0.32,0.34,0.36,0.38,0.40,0.42,0.44,0.46,0.48,0.50,0.52,
          0.54,0.56,0.58,0.60,0.62,0.64,0.66,0.68,0.70,0.72,0.74,0.76,0.78,0.80,0.82,0.85,0.88,0.91,0.95,0.99]
RA_slope = [0.012,0.009,0.016,0.011,0.014,0.008,0.013,0.017,0.010,0.012,0.015,0.009,0.011,0.018,0.010,0.013,0.007,0.012,0.016,0.011,
            0.009,0.014,0.012,0.010,0.015,0.008,0.013,0.011,0.017,0.009,0.012,0.014,0.010,0.013,0.011,0.008,0.012,0.010,0.009,0.011]
RB_int = [0.05,0.10,0.15,0.20,0.24,0.28,0.32,0.36,0.40,0.43,0.46,0.49,0.52,0.55,0.58,
          0.61,0.64,0.67,0.70,0.73,0.76,0.80,0.84,0.88,0.92,0.96,1.00,1.05,1.10,1.18]
RB_slope = [0.010,0.014,0.008,0.012,0.016,0.009,0.011,0.013,0.007,0.015,0.010,0.012,0.009,0.014,0.011,
            0.017,0.008,0.012,0.010,0.013,0.011,0.009,0.015,0.012,0.010,0.014,0.008,0.011,0.009,0.007]
RC_int = [0.04,0.09,0.14,0.19,0.23,0.27,0.31,0.35,0.38,0.41,0.44,0.47,0.50,0.53,
          0.56,0.59,0.62,0.65,0.68,0.71,0.74,0.78,0.82,0.86,0.90,0.95,1.00,1.06]
RC_slope = [0.009,0.012,0.007,0.011,0.014,0.008,0.010,0.013,0.006,0.012,0.009,0.011,0.008,0.013,
            0.010,0.015,0.007,0.011,0.009,0.012,0.010,0.008,0.013,0.011,0.009,0.012,0.010,0.016]
# fixed (average) within-person effect: intercept, slope
FIXED = [(0.41, 0.0105), (0.46, 0.0105), (0.4245, 0.0075)]

# ---------------- style ----------------
FONT = "Liberation Sans, Arial, Helvetica, sans-serif"
LEFT_SCALE = [[0, "rgb(0,0,0)"], [0.25, "rgb(61,42,16)"], [0.5, "rgb(121,80,20)"],
              [0.75, "rgb(186,121,17)"], [1, "rgb(255,165,0)"]]
RIGHT_SCALE = [[0, "rgb(0,0,0)"], [0.25, "rgb(61,59,21)"], [0.5, "rgb(120,119,27)"],
               [0.75, "rgb(185,184,24)"], [1, "rgb(255,255,0)"]]
BORDER = "#6e6e6e"
GRID_MAJOR = "#e6e6e6"
GRID_MINOR = "#f3f3f3"
TICK_COL = "#4d4d4d"

LEFT_DOM = [67 / W, 372 / W]
RIGHT_DOM = [448.3 / W, 757 / W]
ROWS_PX = [(92, 317), (394, 618.5), (697, 922.6)]
LX_RANGE = [-0.335, 8.94]
RX_RANGE = [-8.6, 13.34]
LY_RANGES = [[-0.053, 1.103], [-0.0715, 1.509], [-0.064, 1.339]]
RY_RANGES = [[-0.06, 1.172], [-0.077, 1.727], [-0.0745, 1.561]]


def py(p):
    return 1 - p / H


def expand_rows(levels, xs, cs):
    ox, oy, oc = [], [], []
    for lev, xr, cr in zip(levels, xs, cs):
        assert len(xr) == len(cr), (lev, len(xr), len(cr))
        ox += xr; oy += [lev] * len(xr); oc += cr
    return ox, oy, oc


for a, b, c in [(LA_x, LA_y, LA_c), (LB_x, LB_y, LB_c), (LC_x, LC_y, LC_c)]:
    assert len(a) == len(b) == len(c), (len(a), len(b), len(c))

fig = go.Figure()

left_data = [(LA_x, LA_y, LA_c), (LB_x, LB_y, LB_c), (LC_x, LC_y, LC_c)]
right_rows = [(RA_levels, RA_x, RA_c, []), (RB_levels, RB_x, RB_c, RB_cloud), (RC_levels, RC_x, RC_c, RC_cloud)]
right_lines = [(RA_int, RA_slope), (RB_int, RB_slope), (RC_int, RC_slope)]

for k in range(3):
    li = 2 * k + 1
    ri = 2 * k + 2
    lx = "x" if li == 1 else f"x{li}"
    ly = "y" if li == 1 else f"y{li}"
    rx, ry = f"x{ri}", f"y{ri}"

    # ---- left: between-person scatter + linear fit with 95% CI
    x, y, c = left_data[k]
    fig.add_trace(go.Scatter(x=x, y=y, mode="markers", xaxis=lx, yaxis=ly,
                             marker=dict(color=c, coloraxis="coloraxis", size=6.5, line=dict(width=0)),
                             showlegend=False, hoverinfo="skip"))
    xa, ya = np.array(x), np.array(y)
    inter, slope = BETWEEN_FIT[k]
    n = len(xa)
    s = np.sqrt(np.sum((ya - (inter + slope * xa)) ** 2) / (n - 2))
    xm = xa.mean(); sxx = np.sum((xa - xm) ** 2)
    xs = np.linspace(xa.min(), xa.max(), 80)
    fit = inter + slope * xs
    se = s * np.sqrt(1 / n + (xs - xm) ** 2 / sxx)
    t = 1.973
    fig.add_trace(go.Scatter(x=np.concatenate([xs, xs[::-1]]),
                             y=np.concatenate([fit + t * se, (fit - t * se)[::-1]]),
                             fill="toself", fillcolor="rgba(153,153,153,0.4)", line=dict(width=0),
                             mode="lines", xaxis=lx, yaxis=ly, showlegend=False, hoverinfo="skip"))
    fig.add_trace(go.Scatter(x=xs, y=fit, mode="lines", line=dict(color="#3366FF", width=1.7),
                             xaxis=lx, yaxis=ly, showlegend=False, hoverinfo="skip"))

    # ---- right: person-specific lines, points, fixed effect
    ints, slps = right_lines[k]
    gx, gy = [], []
    for a0, b0 in zip(ints, slps):
        gx += [RX_RANGE[0] - 1, RX_RANGE[1] + 1, None]
        gy += [a0 + b0 * (RX_RANGE[0] - 1), a0 + b0 * (RX_RANGE[1] + 1), None]
    fig.add_trace(go.Scatter(x=gx, y=gy, mode="lines", line=dict(color="rgba(110,110,110,0.3)", width=0.8),
                             xaxis=rx, yaxis=ry, showlegend=False, hoverinfo="skip"))
    levels, xr, cr, cloud = right_rows[k]
    px_, py_, pc_ = expand_rows(levels, xr, cr)
    px_ += [p[0] for p in cloud]; py_ += [p[1] for p in cloud]; pc_ += [p[2] for p in cloud]
    fig.add_trace(go.Scatter(x=px_, y=py_, mode="markers", xaxis=rx, yaxis=ry,
                             marker=dict(color=pc_, coloraxis="coloraxis2", size=6.9, opacity=0.85,
                                         line=dict(width=0)),
                             showlegend=False, hoverinfo="skip"))
    f0, f1 = FIXED[k]
    fig.add_trace(go.Scatter(x=RX_RANGE, y=[f0 + f1 * RX_RANGE[0], f0 + f1 * RX_RANGE[1]], mode="lines",
                             line=dict(color="#E8262B", width=3.6), xaxis=rx, yaxis=ry,
                             showlegend=False, hoverinfo="skip"))


def axis(domain, rng, tv, tt, minor, anchor):
    return dict(domain=domain, range=rng, tickmode="array", tickvals=tv, ticktext=tt,
                minor=dict(tickmode="array", tickvals=minor, showgrid=True, gridcolor=GRID_MINOR,
                           gridwidth=0.6, ticks=""),
                showgrid=True, gridcolor=GRID_MAJOR, gridwidth=1, zeroline=False,
                showline=True, linecolor=BORDER, linewidth=1, mirror=True,
                ticks="outside", ticklen=3, tickwidth=1, tickcolor="#333333",
                tickfont=dict(size=10.5, color=TICK_COL, family=FONT), anchor=anchor, fixedrange=True)


LY = [(LY_A_TICKS, LY_A_TEXT, LY_A_MINOR), (LY_B_TICKS, LY_B_TEXT, LY_B_MINOR), (LY_C_TICKS, LY_C_TEXT, LY_C_MINOR)]
RY = [(RY_A_TICKS, RY_A_TEXT, RY_A_MINOR), (RY_B_TICKS, RY_B_TEXT, RY_B_MINOR), (RY_C_TICKS, RY_C_TEXT, RY_C_MINOR)]
layout_axes = {}
for k in range(3):
    li, ri = 2 * k + 1, 2 * k + 2
    top, bot = ROWS_PX[k]
    ydom = [py(bot), py(top)]
    lxn = "xaxis" if li == 1 else f"xaxis{li}"
    lyn = "yaxis" if li == 1 else f"yaxis{li}"
    lanc_x = "y" if li == 1 else f"y{li}"
    lanc_y = "x" if li == 1 else f"x{li}"
    layout_axes[lxn] = axis(LEFT_DOM, LX_RANGE, LX_TICKS, LX_TEXT, LX_MINOR, lanc_x)
    layout_axes[lyn] = axis(ydom, LY_RANGES[k], *LY[k], lanc_y)
    layout_axes[f"xaxis{ri}"] = axis(RIGHT_DOM, RX_RANGE, RX_TICKS, RX_TEXT, RX_MINOR, f"y{ri}")
    layout_axes[f"yaxis{ri}"] = axis(ydom, RY_RANGES[k], *RY[k], f"x{ri}")

ann = []


def add_text(text, xpx, ypx, size, bold=False, xanchor="center", angle=0, color="#000000"):
    ann.append(dict(text=(f"<b>{text}</b>" if bold else text), x=xpx / W, y=py(ypx), xref="paper",
                    yref="paper", xanchor=xanchor, yanchor="middle", showarrow=False, textangle=angle,
                    font=dict(size=size, color=color, family=FONT)))


add_text(MAIN_TITLE[0], 380, 15.5, 24, bold=True)
add_text(MAIN_TITLE[1], 380, 44.5, 24, bold=True)
for k, (ttl, ypx) in enumerate(zip(PANEL_TITLES, [71.5, 374.5, 678])):
    add_text(ttl, 65, ypx, 22, bold=True, xanchor="left")
X_TITLE_OFF = [26, 27.5, 28.3]
for k in range(3):
    top, bot = ROWS_PX[k]
    mid = (top + bot) / 2
    add_text(Y_TITLES[k][0], 16, mid, 16.5, angle=-90)
    add_text(Y_TITLES[k][1], 31, mid, 16.5, angle=-90)
    add_text(Y_TITLES[k][0], 397.5, mid, 16.5, angle=-90)
    add_text(Y_TITLES[k][1], 412.5, mid, 16.5, angle=-90)
    add_text(X_TITLE_LEFT, 219.5, bot + X_TITLE_OFF[k], 16.5)
    add_text(X_TITLE_RIGHT, 602.6, bot + X_TITLE_OFF[k], 16.5)
add_text(LEG_LEFT[0], 97, 992, 14.5, xanchor="left")
add_text(LEG_LEFT[1], 97, 1009.5, 14.5, xanchor="left")
add_text(LEG_RIGHT[0], 468, 992, 14.5, xanchor="left")
add_text(LEG_RIGHT[1], 468, 1009.5, 14.5, xanchor="left")


def cbar(xc, tv, tt):
    return dict(orientation="h", x=xc / W, xanchor="center", y=py(980), yanchor="top",
                len=105, lenmode="pixels", thickness=21, thicknessmode="pixels",
                tickmode="array", tickvals=tv, ticktext=tt, ticks="inside", ticklen=4,
                tickcolor="white", outlinewidth=0, xpad=0, ypad=0,
                tickfont=dict(size=11, color=TICK_COL, family=FONT), title=dict(text=""))


fig.update_layout(
    width=W, height=H, autosize=False,
    margin=dict(l=0, r=0, t=0, b=0),
    paper_bgcolor="white", plot_bgcolor="white",
    font=dict(family=FONT, color="#000000"),
    showlegend=False,
    coloraxis=dict(colorscale=LEFT_SCALE, cmin=1.62, cmax=6.87,
                   colorbar=cbar(293.2, CB_LEFT_TICKS, CB_LEFT_TEXT)),
    coloraxis2=dict(colorscale=RIGHT_SCALE, cmin=-6.1, cmax=3.9,
                    colorbar=cbar(685, CB_RIGHT_TICKS, CB_RIGHT_TEXT)),
    annotations=ann,
    **layout_axes,
)

fig.write_html("out.html", config={"displayModeBar": False},
               post_script="document.body.style.margin='0px';document.body.style.overflow='hidden';")
